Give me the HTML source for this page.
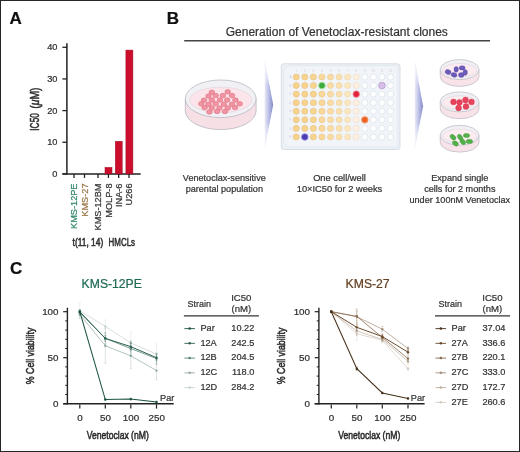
<!DOCTYPE html>
<html><head><meta charset="utf-8"><style>
html,body{margin:0;padding:0;background:#fff;}
body{width:520px;height:452px;overflow:hidden;}
svg{display:block;font-family:"Liberation Sans", sans-serif;will-change:transform;}
</style></head><body>
<svg width="520" height="452" viewBox="0 0 520 452">
<rect width="520" height="452" fill="#fff"/>
<rect x="0.5" y="0.5" width="519" height="451" fill="none" stroke="#262626" stroke-width="1"/>
<text transform="translate(9.60,24.00)" font-size="17" fill="#111" text-anchor="start" font-weight="bold" stroke="#111" stroke-width="0.22">A</text>
<text transform="translate(166.80,24.30)" font-size="17" fill="#111" text-anchor="start" font-weight="bold" stroke="#111" stroke-width="0.22">B</text>
<text transform="translate(9.90,273.80)" font-size="17" fill="#111" text-anchor="start" font-weight="bold" stroke="#111" stroke-width="0.22">C</text>
<line x1="66.90" y1="43.20" x2="66.90" y2="174.60" stroke="#222" stroke-width="1.5"/>
<line x1="62.40" y1="173.90" x2="140.70" y2="173.90" stroke="#222" stroke-width="1.5"/>
<line x1="62.40" y1="173.90" x2="66.90" y2="173.90" stroke="#222" stroke-width="1.3"/>
<text transform="translate(57.40,176.90)" font-size="9.2" fill="#2e2e2e" text-anchor="end" font-weight="normal" stroke="#2e2e2e" stroke-width="0.22">0</text>
<line x1="62.40" y1="142.25" x2="66.90" y2="142.25" stroke="#222" stroke-width="1.3"/>
<text transform="translate(57.40,145.25)" font-size="9.2" fill="#2e2e2e" text-anchor="end" font-weight="normal" stroke="#2e2e2e" stroke-width="0.22">10</text>
<line x1="62.40" y1="110.60" x2="66.90" y2="110.60" stroke="#222" stroke-width="1.3"/>
<text transform="translate(57.40,113.60)" font-size="9.2" fill="#2e2e2e" text-anchor="end" font-weight="normal" stroke="#2e2e2e" stroke-width="0.22">20</text>
<line x1="62.40" y1="78.95" x2="66.90" y2="78.95" stroke="#222" stroke-width="1.3"/>
<text transform="translate(57.40,81.95)" font-size="9.2" fill="#2e2e2e" text-anchor="end" font-weight="normal" stroke="#2e2e2e" stroke-width="0.22">30</text>
<line x1="62.40" y1="47.30" x2="66.90" y2="47.30" stroke="#222" stroke-width="1.3"/>
<text transform="translate(57.40,50.30)" font-size="9.2" fill="#2e2e2e" text-anchor="end" font-weight="normal" stroke="#2e2e2e" stroke-width="0.22">40</text>
<line x1="74.00" y1="173.90" x2="74.00" y2="177.90" stroke="#222" stroke-width="1.3"/>
<line x1="84.50" y1="173.90" x2="84.50" y2="177.90" stroke="#222" stroke-width="1.3"/>
<line x1="98.00" y1="173.90" x2="98.00" y2="177.90" stroke="#222" stroke-width="1.3"/>
<line x1="108.40" y1="173.90" x2="108.40" y2="177.90" stroke="#222" stroke-width="1.3"/>
<line x1="118.70" y1="173.90" x2="118.70" y2="177.90" stroke="#222" stroke-width="1.3"/>
<line x1="129.00" y1="173.90" x2="129.00" y2="177.90" stroke="#222" stroke-width="1.3"/>
<rect x="105.0" y="167.4" width="7.00" height="6.50" fill="#cc0e2c" stroke="#a00a22" stroke-width="0.5"/>
<rect x="115.3" y="141.3" width="6.90" height="32.60" fill="#cc0e2c" stroke="#a00a22" stroke-width="0.5"/>
<rect x="125.9" y="50.1" width="7.00" height="123.80" fill="#cc0e2c" stroke="#a00a22" stroke-width="0.5"/>
<text transform="translate(77.30,183.50) rotate(-90)" font-size="9.2" fill="#2f8568" text-anchor="end" font-weight="normal" stroke="#2f8568" stroke-width="0.22">KMS-12PE</text>
<text transform="translate(87.80,183.50) rotate(-90)" font-size="9.2" fill="#9a7444" text-anchor="end" font-weight="normal" stroke="#9a7444" stroke-width="0.22">KMS-27</text>
<text transform="translate(101.30,183.50) rotate(-90)" font-size="9.2" fill="#333" text-anchor="end" font-weight="normal" stroke="#333" stroke-width="0.22">KMS-12BM</text>
<text transform="translate(111.70,183.50) rotate(-90)" font-size="9.2" fill="#333" text-anchor="end" font-weight="normal" stroke="#333" stroke-width="0.22">MOLP-8</text>
<text transform="translate(122.00,183.50) rotate(-90)" font-size="9.2" fill="#333" text-anchor="end" font-weight="normal" stroke="#333" stroke-width="0.22">INA-6</text>
<text transform="translate(132.30,183.50) rotate(-90)" font-size="9.2" fill="#333" text-anchor="end" font-weight="normal" stroke="#333" stroke-width="0.22">U266</text>
<text transform="translate(39.00,121.90) rotate(-90) scale(0.7,1)" font-size="12.0" fill="#2a2a2a" text-anchor="middle" font-weight="normal" stroke="#2a2a2a" stroke-width="0.5">IC50</text>
<text transform="translate(39.00,98.10) rotate(-90) scale(0.86,1)" font-size="12.0" fill="#2a2a2a" text-anchor="middle" font-weight="normal" stroke="#2a2a2a" stroke-width="0.5">(<tspan font-style="italic">μ</tspan>M)</text>
<text transform="translate(72.60,246.00) scale(0.73,1)" font-size="11.5" fill="#2a2a2a" text-anchor="start" font-weight="normal" stroke="#2a2a2a" stroke-width="0.55">t(11, 14)</text>
<text transform="translate(108.60,246.00) scale(0.69,1)" font-size="11.5" fill="#2a2a2a" text-anchor="start" font-weight="normal" stroke="#2a2a2a" stroke-width="0.5">HMCLs</text>
<text transform="translate(225.70,36.00)" font-size="12" fill="#333" text-anchor="start" font-weight="normal" stroke="#333" stroke-width="0.22">Generation of Venetoclax-resistant clones</text>
<line x1="184.20" y1="40.80" x2="490.00" y2="40.80" stroke="#444" stroke-width="1.4"/>
<defs><linearGradient id="chev" x1="0" y1="0" x2="1" y2="0"><stop offset="0" stop-color="#e8e9f6"/><stop offset="0.5" stop-color="#babde6"/><stop offset="1" stop-color="#8088cc"/></linearGradient><linearGradient id="chevv" x1="0" y1="0" x2="0" y2="1"><stop offset="0" stop-color="#fff" stop-opacity="0.9"/><stop offset="0.3" stop-color="#fff" stop-opacity="0"/><stop offset="0.7" stop-color="#fff" stop-opacity="0"/><stop offset="1" stop-color="#fff" stop-opacity="0.9"/></linearGradient><radialGradient id="gwell" cx="0.5" cy="0.5" r="0.5"><stop offset="0" stop-color="#5fd05a"/><stop offset="0.6" stop-color="#2f9c2f"/><stop offset="0.8" stop-color="#3aa83a"/><stop offset="1" stop-color="#b8e8b0"/></radialGradient></defs>
<polygon points="264.7,60.5 273.2,104.8 264.7,148.0" fill="url(#chev)"/>
<polygon points="264.2,60.0 273.7,104.8 264.2,148.5" fill="url(#chevv)"/>
<polygon points="414.9,61.6 423.1,106.3 414.9,148.0" fill="url(#chev)"/>
<polygon points="414.4,61.1 423.6,106.3 414.4,148.5" fill="url(#chevv)"/>
<path d="M185.30,98.80 L185.30,110.80 A35.40,18.80 0 0 0 256.10,110.80 L256.10,98.80 Z" fill="#f7dfe6" stroke="#b7b7c0" stroke-width="0.8"/>
<ellipse cx="220.70" cy="98.80" rx="35.40" ry="18.80" fill="#f1f1f5" stroke="#b7b7c0" stroke-width="0.8"/>
<ellipse cx="220.70" cy="99.93" rx="31.15" ry="12.78" fill="#fce5ea" stroke="#d9cfd6" stroke-width="0.5"/>
<ellipse cx="211.80" cy="92.30" rx="2.75" ry="2.25" fill="#f095a3" stroke="#e27485" stroke-width="0.7"/>
<ellipse cx="227.70" cy="91.80" rx="2.75" ry="2.25" fill="#f095a3" stroke="#e27485" stroke-width="0.7"/>
<ellipse cx="208.50" cy="96.10" rx="2.75" ry="2.25" fill="#f095a3" stroke="#e27485" stroke-width="0.7"/>
<ellipse cx="215.70" cy="95.60" rx="2.75" ry="2.25" fill="#f095a3" stroke="#e27485" stroke-width="0.7"/>
<ellipse cx="222.90" cy="95.60" rx="2.75" ry="2.25" fill="#f095a3" stroke="#e27485" stroke-width="0.7"/>
<ellipse cx="232.00" cy="95.60" rx="2.75" ry="2.25" fill="#f095a3" stroke="#e27485" stroke-width="0.7"/>
<ellipse cx="211.80" cy="100.00" rx="2.75" ry="2.25" fill="#f095a3" stroke="#e27485" stroke-width="0.7"/>
<ellipse cx="220.00" cy="100.00" rx="2.75" ry="2.25" fill="#f095a3" stroke="#e27485" stroke-width="0.7"/>
<ellipse cx="227.20" cy="100.00" rx="2.75" ry="2.25" fill="#f095a3" stroke="#e27485" stroke-width="0.7"/>
<ellipse cx="235.40" cy="100.00" rx="2.75" ry="2.25" fill="#f095a3" stroke="#e27485" stroke-width="0.7"/>
<ellipse cx="204.00" cy="100.20" rx="2.75" ry="2.25" fill="#f095a3" stroke="#e27485" stroke-width="0.7"/>
<ellipse cx="201.30" cy="103.80" rx="2.75" ry="2.25" fill="#f095a3" stroke="#e27485" stroke-width="0.7"/>
<ellipse cx="208.50" cy="104.30" rx="2.75" ry="2.25" fill="#f095a3" stroke="#e27485" stroke-width="0.7"/>
<ellipse cx="215.70" cy="103.80" rx="2.75" ry="2.25" fill="#f095a3" stroke="#e27485" stroke-width="0.7"/>
<ellipse cx="223.80" cy="104.30" rx="2.75" ry="2.25" fill="#f095a3" stroke="#e27485" stroke-width="0.7"/>
<ellipse cx="232.00" cy="104.30" rx="2.75" ry="2.25" fill="#f095a3" stroke="#e27485" stroke-width="0.7"/>
<ellipse cx="239.70" cy="103.80" rx="2.75" ry="2.25" fill="#f095a3" stroke="#e27485" stroke-width="0.7"/>
<ellipse cx="204.60" cy="107.60" rx="2.75" ry="2.25" fill="#f095a3" stroke="#e27485" stroke-width="0.7"/>
<ellipse cx="211.80" cy="108.10" rx="2.75" ry="2.25" fill="#f095a3" stroke="#e27485" stroke-width="0.7"/>
<ellipse cx="219.50" cy="108.10" rx="2.75" ry="2.25" fill="#f095a3" stroke="#e27485" stroke-width="0.7"/>
<ellipse cx="227.70" cy="108.10" rx="2.75" ry="2.25" fill="#f095a3" stroke="#e27485" stroke-width="0.7"/>
<ellipse cx="235.00" cy="107.60" rx="2.75" ry="2.25" fill="#f095a3" stroke="#e27485" stroke-width="0.7"/>
<ellipse cx="209.40" cy="112.00" rx="2.75" ry="2.25" fill="#f095a3" stroke="#e27485" stroke-width="0.7"/>
<ellipse cx="217.10" cy="111.50" rx="2.75" ry="2.25" fill="#f095a3" stroke="#e27485" stroke-width="0.7"/>
<ellipse cx="225.00" cy="111.50" rx="2.75" ry="2.25" fill="#f095a3" stroke="#e27485" stroke-width="0.7"/>
<rect x="281.3" y="63.8" width="118.7" height="85.7" rx="2.5" fill="#edf1f6" stroke="#d3dbe4" stroke-width="0.9"/>
<path d="M288.0,65.8 L397.8,65.8 L397.8,147.0 L288.0,147.0 L283.6,142.6 L283.6,70.2 Z" fill="#f1f5f9" stroke="#dfe5ec" stroke-width="0.7"/>
<text transform="translate(290.40,78.10)" font-size="3.0" fill="#cfc6dc" text-anchor="middle" font-weight="normal">A</text>
<circle cx="296.25" cy="77.00" r="3.05" fill="#f8d28c" stroke="#e6bf7c" stroke-width="0.6"/>
<circle cx="304.82" cy="77.00" r="3.05" fill="#f8d38e" stroke="#e6bf7c" stroke-width="0.6"/>
<circle cx="313.39" cy="77.00" r="3.05" fill="#f8d491" stroke="#e6c07e" stroke-width="0.6"/>
<circle cx="321.96" cy="77.00" r="3.05" fill="#f9d89a" stroke="#e8c686" stroke-width="0.6"/>
<circle cx="330.53" cy="77.00" r="3.05" fill="#f9dca4" stroke="#eacb92" stroke-width="0.6"/>
<circle cx="339.10" cy="77.00" r="3.05" fill="#fae0ae" stroke="#ecd09e" stroke-width="0.6"/>
<circle cx="347.67" cy="77.00" r="3.05" fill="#fbe6be" stroke="#eed6ae" stroke-width="0.6"/>
<circle cx="356.24" cy="77.00" r="3.05" fill="#fdf0e0" stroke="#ecd9c8" stroke-width="0.6"/>
<circle cx="364.81" cy="77.00" r="3.05" fill="#ffffff" stroke="#d4dbe4" stroke-width="0.6"/>
<circle cx="373.38" cy="77.00" r="3.05" fill="#ffffff" stroke="#d4dbe4" stroke-width="0.6"/>
<circle cx="381.95" cy="77.00" r="3.05" fill="#ffffff" stroke="#d4dbe4" stroke-width="0.6"/>
<circle cx="390.52" cy="77.00" r="3.05" fill="#ffffff" stroke="#d4dbe4" stroke-width="0.6"/>
<text transform="translate(290.40,86.67)" font-size="3.0" fill="#cfc6dc" text-anchor="middle" font-weight="normal">B</text>
<circle cx="296.25" cy="85.57" r="3.05" fill="#f8d28c" stroke="#e6bf7c" stroke-width="0.6"/>
<circle cx="304.82" cy="85.57" r="3.05" fill="#f8d38e" stroke="#e6bf7c" stroke-width="0.6"/>
<circle cx="313.39" cy="85.57" r="3.05" fill="#f8d491" stroke="#e6c07e" stroke-width="0.6"/>
<circle cx="321.96" cy="85.57" r="3.3" fill="#3cab3c" stroke="#9fdc98" stroke-width="0.9"/>
<circle cx="330.53" cy="85.57" r="3.05" fill="#f9dca4" stroke="#eacb92" stroke-width="0.6"/>
<circle cx="339.10" cy="85.57" r="3.05" fill="#fae0ae" stroke="#ecd09e" stroke-width="0.6"/>
<circle cx="347.67" cy="85.57" r="3.05" fill="#fbe6be" stroke="#eed6ae" stroke-width="0.6"/>
<circle cx="356.24" cy="85.57" r="3.05" fill="#fdf0e0" stroke="#ecd9c8" stroke-width="0.6"/>
<circle cx="364.81" cy="85.57" r="3.05" fill="#ffffff" stroke="#d4dbe4" stroke-width="0.6"/>
<circle cx="373.38" cy="85.57" r="3.05" fill="#ffffff" stroke="#d4dbe4" stroke-width="0.6"/>
<circle cx="381.95" cy="85.57" r="3.3" fill="#d6c0e8" stroke="#b99ed2" stroke-width="0.9"/>
<circle cx="390.52" cy="85.57" r="3.05" fill="#ffffff" stroke="#d4dbe4" stroke-width="0.6"/>
<text transform="translate(290.40,95.24)" font-size="3.0" fill="#cfc6dc" text-anchor="middle" font-weight="normal">C</text>
<circle cx="296.25" cy="94.14" r="3.05" fill="#f8d28c" stroke="#e6bf7c" stroke-width="0.6"/>
<circle cx="304.82" cy="94.14" r="3.05" fill="#f8d38e" stroke="#e6bf7c" stroke-width="0.6"/>
<circle cx="313.39" cy="94.14" r="3.05" fill="#f8d491" stroke="#e6c07e" stroke-width="0.6"/>
<circle cx="321.96" cy="94.14" r="3.05" fill="#f9d89a" stroke="#e8c686" stroke-width="0.6"/>
<circle cx="330.53" cy="94.14" r="3.05" fill="#f9dca4" stroke="#eacb92" stroke-width="0.6"/>
<circle cx="339.10" cy="94.14" r="3.05" fill="#fae0ae" stroke="#ecd09e" stroke-width="0.6"/>
<circle cx="347.67" cy="94.14" r="3.05" fill="#fbe6be" stroke="#eed6ae" stroke-width="0.6"/>
<circle cx="356.24" cy="94.14" r="3.3" fill="#e0223b" stroke="#f09aa4" stroke-width="0.9"/>
<circle cx="364.81" cy="94.14" r="3.05" fill="#ffffff" stroke="#d4dbe4" stroke-width="0.6"/>
<circle cx="373.38" cy="94.14" r="3.05" fill="#ffffff" stroke="#d4dbe4" stroke-width="0.6"/>
<circle cx="381.95" cy="94.14" r="3.05" fill="#ffffff" stroke="#d4dbe4" stroke-width="0.6"/>
<circle cx="390.52" cy="94.14" r="3.05" fill="#ffffff" stroke="#d4dbe4" stroke-width="0.6"/>
<text transform="translate(290.40,103.81)" font-size="3.0" fill="#cfc6dc" text-anchor="middle" font-weight="normal">D</text>
<circle cx="296.25" cy="102.71" r="3.05" fill="#f8d28c" stroke="#e6bf7c" stroke-width="0.6"/>
<circle cx="304.82" cy="102.71" r="3.05" fill="#f8d38e" stroke="#e6bf7c" stroke-width="0.6"/>
<circle cx="313.39" cy="102.71" r="3.05" fill="#f8d491" stroke="#e6c07e" stroke-width="0.6"/>
<circle cx="321.96" cy="102.71" r="3.05" fill="#f9d89a" stroke="#e8c686" stroke-width="0.6"/>
<circle cx="330.53" cy="102.71" r="3.05" fill="#f9dca4" stroke="#eacb92" stroke-width="0.6"/>
<circle cx="339.10" cy="102.71" r="3.05" fill="#fae0ae" stroke="#ecd09e" stroke-width="0.6"/>
<circle cx="347.67" cy="102.71" r="3.05" fill="#fbe6be" stroke="#eed6ae" stroke-width="0.6"/>
<circle cx="356.24" cy="102.71" r="3.05" fill="#fdf0e0" stroke="#ecd9c8" stroke-width="0.6"/>
<circle cx="364.81" cy="102.71" r="3.05" fill="#ffffff" stroke="#d4dbe4" stroke-width="0.6"/>
<circle cx="373.38" cy="102.71" r="3.05" fill="#ffffff" stroke="#d4dbe4" stroke-width="0.6"/>
<circle cx="381.95" cy="102.71" r="3.05" fill="#ffffff" stroke="#d4dbe4" stroke-width="0.6"/>
<circle cx="390.52" cy="102.71" r="3.05" fill="#ffffff" stroke="#d4dbe4" stroke-width="0.6"/>
<text transform="translate(290.40,112.38)" font-size="3.0" fill="#cfc6dc" text-anchor="middle" font-weight="normal">E</text>
<circle cx="296.25" cy="111.28" r="3.05" fill="#f8d28c" stroke="#e6bf7c" stroke-width="0.6"/>
<circle cx="304.82" cy="111.28" r="3.05" fill="#f8d38e" stroke="#e6bf7c" stroke-width="0.6"/>
<circle cx="313.39" cy="111.28" r="3.05" fill="#f8d491" stroke="#e6c07e" stroke-width="0.6"/>
<circle cx="321.96" cy="111.28" r="3.05" fill="#f9d89a" stroke="#e8c686" stroke-width="0.6"/>
<circle cx="330.53" cy="111.28" r="3.05" fill="#f9dca4" stroke="#eacb92" stroke-width="0.6"/>
<circle cx="339.10" cy="111.28" r="3.05" fill="#fae0ae" stroke="#ecd09e" stroke-width="0.6"/>
<circle cx="347.67" cy="111.28" r="3.05" fill="#fbe6be" stroke="#eed6ae" stroke-width="0.6"/>
<circle cx="356.24" cy="111.28" r="3.05" fill="#fdf0e0" stroke="#ecd9c8" stroke-width="0.6"/>
<circle cx="364.81" cy="111.28" r="3.05" fill="#ffffff" stroke="#d4dbe4" stroke-width="0.6"/>
<circle cx="373.38" cy="111.28" r="3.05" fill="#ffffff" stroke="#d4dbe4" stroke-width="0.6"/>
<circle cx="381.95" cy="111.28" r="3.05" fill="#ffffff" stroke="#d4dbe4" stroke-width="0.6"/>
<circle cx="390.52" cy="111.28" r="3.05" fill="#ffffff" stroke="#d4dbe4" stroke-width="0.6"/>
<text transform="translate(290.40,120.95)" font-size="3.0" fill="#cfc6dc" text-anchor="middle" font-weight="normal">F</text>
<circle cx="296.25" cy="119.85" r="3.05" fill="#f8d28c" stroke="#e6bf7c" stroke-width="0.6"/>
<circle cx="304.82" cy="119.85" r="3.05" fill="#f8d38e" stroke="#e6bf7c" stroke-width="0.6"/>
<circle cx="313.39" cy="119.85" r="3.05" fill="#f8d491" stroke="#e6c07e" stroke-width="0.6"/>
<circle cx="321.96" cy="119.85" r="3.05" fill="#f9d89a" stroke="#e8c686" stroke-width="0.6"/>
<circle cx="330.53" cy="119.85" r="3.05" fill="#f9dca4" stroke="#eacb92" stroke-width="0.6"/>
<circle cx="339.10" cy="119.85" r="3.05" fill="#fae0ae" stroke="#ecd09e" stroke-width="0.6"/>
<circle cx="347.67" cy="119.85" r="3.05" fill="#fbe6be" stroke="#eed6ae" stroke-width="0.6"/>
<circle cx="356.24" cy="119.85" r="3.05" fill="#fdf0e0" stroke="#ecd9c8" stroke-width="0.6"/>
<circle cx="364.81" cy="119.85" r="3.3" fill="#ee6228" stroke="#f6a878" stroke-width="0.9"/>
<circle cx="373.38" cy="119.85" r="3.05" fill="#ffffff" stroke="#d4dbe4" stroke-width="0.6"/>
<circle cx="381.95" cy="119.85" r="3.05" fill="#ffffff" stroke="#d4dbe4" stroke-width="0.6"/>
<circle cx="390.52" cy="119.85" r="3.05" fill="#ffffff" stroke="#d4dbe4" stroke-width="0.6"/>
<text transform="translate(290.40,129.52)" font-size="3.0" fill="#cfc6dc" text-anchor="middle" font-weight="normal">G</text>
<circle cx="296.25" cy="128.42" r="3.05" fill="#f8d28c" stroke="#e6bf7c" stroke-width="0.6"/>
<circle cx="304.82" cy="128.42" r="3.05" fill="#f8d38e" stroke="#e6bf7c" stroke-width="0.6"/>
<circle cx="313.39" cy="128.42" r="3.05" fill="#f8d491" stroke="#e6c07e" stroke-width="0.6"/>
<circle cx="321.96" cy="128.42" r="3.05" fill="#f9d89a" stroke="#e8c686" stroke-width="0.6"/>
<circle cx="330.53" cy="128.42" r="3.05" fill="#f9dca4" stroke="#eacb92" stroke-width="0.6"/>
<circle cx="339.10" cy="128.42" r="3.05" fill="#fae0ae" stroke="#ecd09e" stroke-width="0.6"/>
<circle cx="347.67" cy="128.42" r="3.05" fill="#fbe6be" stroke="#eed6ae" stroke-width="0.6"/>
<circle cx="356.24" cy="128.42" r="3.05" fill="#fdf0e0" stroke="#ecd9c8" stroke-width="0.6"/>
<circle cx="364.81" cy="128.42" r="3.05" fill="#ffffff" stroke="#d4dbe4" stroke-width="0.6"/>
<circle cx="373.38" cy="128.42" r="3.05" fill="#ffffff" stroke="#d4dbe4" stroke-width="0.6"/>
<circle cx="381.95" cy="128.42" r="3.05" fill="#ffffff" stroke="#d4dbe4" stroke-width="0.6"/>
<circle cx="390.52" cy="128.42" r="3.05" fill="#ffffff" stroke="#d4dbe4" stroke-width="0.6"/>
<text transform="translate(290.40,138.09)" font-size="3.0" fill="#cfc6dc" text-anchor="middle" font-weight="normal">H</text>
<circle cx="296.25" cy="136.99" r="3.05" fill="#f8d28c" stroke="#e6bf7c" stroke-width="0.6"/>
<circle cx="304.82" cy="136.99" r="3.3" fill="#4a3cb2" stroke="#9890d8" stroke-width="0.9"/>
<circle cx="313.39" cy="136.99" r="3.05" fill="#f8d491" stroke="#e6c07e" stroke-width="0.6"/>
<circle cx="321.96" cy="136.99" r="3.05" fill="#f9d89a" stroke="#e8c686" stroke-width="0.6"/>
<circle cx="330.53" cy="136.99" r="3.05" fill="#f9dca4" stroke="#eacb92" stroke-width="0.6"/>
<circle cx="339.10" cy="136.99" r="3.05" fill="#fae0ae" stroke="#ecd09e" stroke-width="0.6"/>
<circle cx="347.67" cy="136.99" r="3.05" fill="#fbe6be" stroke="#eed6ae" stroke-width="0.6"/>
<circle cx="356.24" cy="136.99" r="3.05" fill="#fdf0e0" stroke="#ecd9c8" stroke-width="0.6"/>
<circle cx="364.81" cy="136.99" r="3.05" fill="#ffffff" stroke="#d4dbe4" stroke-width="0.6"/>
<circle cx="373.38" cy="136.99" r="3.05" fill="#ffffff" stroke="#d4dbe4" stroke-width="0.6"/>
<circle cx="381.95" cy="136.99" r="3.05" fill="#ffffff" stroke="#d4dbe4" stroke-width="0.6"/>
<circle cx="390.52" cy="136.99" r="3.05" fill="#ffffff" stroke="#d4dbe4" stroke-width="0.6"/>
<text transform="translate(296.25,71.80)" font-size="2.8" fill="#d2cad8" text-anchor="middle" font-weight="normal">1</text>
<text transform="translate(304.82,71.80)" font-size="2.8" fill="#d2cad8" text-anchor="middle" font-weight="normal">2</text>
<text transform="translate(313.39,71.80)" font-size="2.8" fill="#d2cad8" text-anchor="middle" font-weight="normal">3</text>
<text transform="translate(321.96,71.80)" font-size="2.8" fill="#d2cad8" text-anchor="middle" font-weight="normal">4</text>
<text transform="translate(330.53,71.80)" font-size="2.8" fill="#d2cad8" text-anchor="middle" font-weight="normal">5</text>
<text transform="translate(339.10,71.80)" font-size="2.8" fill="#d2cad8" text-anchor="middle" font-weight="normal">6</text>
<text transform="translate(347.67,71.80)" font-size="2.8" fill="#d2cad8" text-anchor="middle" font-weight="normal">7</text>
<text transform="translate(356.24,71.80)" font-size="2.8" fill="#d2cad8" text-anchor="middle" font-weight="normal">8</text>
<text transform="translate(364.81,71.80)" font-size="2.8" fill="#d2cad8" text-anchor="middle" font-weight="normal">9</text>
<text transform="translate(373.38,71.80)" font-size="2.8" fill="#d2cad8" text-anchor="middle" font-weight="normal">10</text>
<text transform="translate(381.95,71.80)" font-size="2.8" fill="#d2cad8" text-anchor="middle" font-weight="normal">11</text>
<text transform="translate(390.52,71.80)" font-size="2.8" fill="#d2cad8" text-anchor="middle" font-weight="normal">12</text>
<path d="M440.20,69.60 L440.20,76.40 A19.40,10.00 0 0 0 479.00,76.40 L479.00,69.60 Z" fill="#f8e3e9" stroke="#b7b7c0" stroke-width="0.7"/>
<ellipse cx="459.60" cy="69.60" rx="19.40" ry="10.00" fill="#f1f1f5" stroke="#b7b7c0" stroke-width="0.7"/>
<ellipse cx="459.60" cy="70.20" rx="17.07" ry="6.80" fill="#fcecf0" stroke="#d9cfd6" stroke-width="0.5"/>
<path d="M440.20,101.90 L440.20,108.70 A19.40,10.00 0 0 0 479.00,108.70 L479.00,101.90 Z" fill="#f8e3e9" stroke="#b7b7c0" stroke-width="0.7"/>
<ellipse cx="459.60" cy="101.90" rx="19.40" ry="10.00" fill="#f1f1f5" stroke="#b7b7c0" stroke-width="0.7"/>
<ellipse cx="459.60" cy="102.50" rx="17.07" ry="6.80" fill="#fcecf0" stroke="#d9cfd6" stroke-width="0.5"/>
<path d="M440.20,135.30 L440.20,142.10 A19.40,10.00 0 0 0 479.00,142.10 L479.00,135.30 Z" fill="#f8e3e9" stroke="#b7b7c0" stroke-width="0.7"/>
<ellipse cx="459.60" cy="135.30" rx="19.40" ry="10.00" fill="#f1f1f5" stroke="#b7b7c0" stroke-width="0.7"/>
<ellipse cx="459.60" cy="135.90" rx="17.07" ry="6.80" fill="#fcecf0" stroke="#d9cfd6" stroke-width="0.5"/>
<ellipse cx="448.10" cy="72.00" rx="3.0" ry="2.3" transform="rotate(20 448.10 72.00)" fill="#6c5cba" stroke="#5a4aa6" stroke-width="0.4"/>
<ellipse cx="454.00" cy="74.90" rx="3.0" ry="2.2" transform="rotate(15 454.00 74.90)" fill="#6c5cba" stroke="#5a4aa6" stroke-width="0.4"/>
<ellipse cx="456.20" cy="69.40" rx="2.2" ry="2.8" transform="rotate(0 456.20 69.40)" fill="#6c5cba" stroke="#5a4aa6" stroke-width="0.4"/>
<ellipse cx="462.10" cy="67.90" rx="3.0" ry="2.2" transform="rotate(0 462.10 67.90)" fill="#6c5cba" stroke="#5a4aa6" stroke-width="0.4"/>
<ellipse cx="461.30" cy="75.00" rx="2.8" ry="2.4" transform="rotate(0 461.30 75.00)" fill="#6c5cba" stroke="#5a4aa6" stroke-width="0.4"/>
<ellipse cx="465.20" cy="72.40" rx="2.2" ry="2.8" transform="rotate(0 465.20 72.40)" fill="#6c5cba" stroke="#5a4aa6" stroke-width="0.4"/>
<circle cx="453.50" cy="101.90" r="2.9" fill="#e6445a" stroke="#d03048" stroke-width="0.4"/>
<circle cx="459.50" cy="102.30" r="2.9" fill="#e6445a" stroke="#d03048" stroke-width="0.4"/>
<circle cx="465.50" cy="100.00" r="2.9" fill="#e6445a" stroke="#d03048" stroke-width="0.4"/>
<circle cx="471.50" cy="101.90" r="2.9" fill="#e6445a" stroke="#d03048" stroke-width="0.4"/>
<circle cx="458.60" cy="108.00" r="2.9" fill="#e6445a" stroke="#d03048" stroke-width="0.4"/>
<circle cx="466.00" cy="106.50" r="2.9" fill="#e6445a" stroke="#d03048" stroke-width="0.4"/>
<ellipse cx="453.00" cy="137.20" rx="3.3" ry="2.2" transform="rotate(40 453.00 137.20)" fill="#52b04a" stroke="#409a38" stroke-width="0.4"/>
<ellipse cx="455.40" cy="143.40" rx="3.2" ry="2.2" transform="rotate(35 455.40 143.40)" fill="#52b04a" stroke="#409a38" stroke-width="0.4"/>
<ellipse cx="460.20" cy="137.40" rx="3.4" ry="2.2" transform="rotate(55 460.20 137.40)" fill="#52b04a" stroke="#409a38" stroke-width="0.4"/>
<ellipse cx="462.80" cy="141.80" rx="3.2" ry="2.3" transform="rotate(50 462.80 141.80)" fill="#52b04a" stroke="#409a38" stroke-width="0.4"/>
<ellipse cx="466.50" cy="135.50" rx="3.2" ry="2.1" transform="rotate(5 466.50 135.50)" fill="#52b04a" stroke="#409a38" stroke-width="0.4"/>
<ellipse cx="469.40" cy="141.40" rx="3.3" ry="2.2" transform="rotate(0 469.40 141.40)" fill="#52b04a" stroke="#409a38" stroke-width="0.4"/>
<text transform="translate(224.30,181.10)" font-size="9.1" fill="#333" text-anchor="middle" font-weight="normal" stroke="#333" stroke-width="0.22">Venetoclax-sensitive</text>
<text transform="translate(224.30,191.70)" font-size="9.1" fill="#333" text-anchor="middle" font-weight="normal" stroke="#333" stroke-width="0.22">parental population</text>
<text transform="translate(339.50,180.80)" font-size="9.3" fill="#333" text-anchor="middle" font-weight="normal" stroke="#333" stroke-width="0.22">One cell/well</text>
<text transform="translate(339.50,191.60)" font-size="9.3" fill="#333" text-anchor="middle" font-weight="normal" stroke="#333" stroke-width="0.22">10×IC50 for 2 weeks</text>
<text transform="translate(459.80,181.20)" font-size="9.1" fill="#333" text-anchor="middle" font-weight="normal" stroke="#333" stroke-width="0.22">Expand single</text>
<text transform="translate(459.80,191.90)" font-size="9.1" fill="#333" text-anchor="middle" font-weight="normal" stroke="#333" stroke-width="0.22">cells for 2 months</text>
<text transform="translate(459.80,202.60)" font-size="9.1" fill="#333" text-anchor="middle" font-weight="normal" stroke="#333" stroke-width="0.22">under 100nM Venetoclax</text>
<text transform="translate(81.60,288.40)" font-size="12.2" fill="#1f6b55" text-anchor="start" font-weight="normal" stroke="#1f6b55" stroke-width="0.22">KMS-12PE</text>
<line x1="67.40" y1="307.70" x2="67.40" y2="404.40" stroke="#222" stroke-width="1.4"/>
<line x1="63.20" y1="403.70" x2="173.70" y2="403.70" stroke="#222" stroke-width="1.4"/>
<line x1="63.20" y1="403.70" x2="67.40" y2="403.70" stroke="#222" stroke-width="1.2"/>
<line x1="65.20" y1="394.50" x2="67.40" y2="394.50" stroke="#222" stroke-width="1.0"/>
<line x1="65.20" y1="385.30" x2="67.40" y2="385.30" stroke="#222" stroke-width="1.0"/>
<line x1="65.20" y1="376.10" x2="67.40" y2="376.10" stroke="#222" stroke-width="1.0"/>
<line x1="65.20" y1="366.90" x2="67.40" y2="366.90" stroke="#222" stroke-width="1.0"/>
<line x1="63.20" y1="357.70" x2="67.40" y2="357.70" stroke="#222" stroke-width="1.2"/>
<line x1="65.20" y1="348.50" x2="67.40" y2="348.50" stroke="#222" stroke-width="1.0"/>
<line x1="65.20" y1="339.30" x2="67.40" y2="339.30" stroke="#222" stroke-width="1.0"/>
<line x1="65.20" y1="330.10" x2="67.40" y2="330.10" stroke="#222" stroke-width="1.0"/>
<line x1="65.20" y1="320.90" x2="67.40" y2="320.90" stroke="#222" stroke-width="1.0"/>
<line x1="63.20" y1="311.70" x2="67.40" y2="311.70" stroke="#222" stroke-width="1.2"/>
<text transform="translate(58.50,407.10)" font-size="9.8" fill="#2e2e2e" text-anchor="end" font-weight="normal" stroke="#2e2e2e" stroke-width="0.22">0</text>
<text transform="translate(58.50,361.10)" font-size="9.8" fill="#2e2e2e" text-anchor="end" font-weight="normal" stroke="#2e2e2e" stroke-width="0.22">50</text>
<text transform="translate(58.50,315.10)" font-size="9.8" fill="#2e2e2e" text-anchor="end" font-weight="normal" stroke="#2e2e2e" stroke-width="0.22">100</text>
<line x1="79.80" y1="404.40" x2="79.80" y2="408.60" stroke="#222" stroke-width="1.2"/>
<text transform="translate(80.00,421.10)" font-size="9.8" fill="#2e2e2e" text-anchor="middle" font-weight="normal" stroke="#2e2e2e" stroke-width="0.22">0</text>
<line x1="105.30" y1="404.40" x2="105.30" y2="408.60" stroke="#222" stroke-width="1.2"/>
<text transform="translate(105.50,421.10)" font-size="9.8" fill="#2e2e2e" text-anchor="middle" font-weight="normal" stroke="#2e2e2e" stroke-width="0.22">50</text>
<line x1="130.80" y1="404.40" x2="130.80" y2="408.60" stroke="#222" stroke-width="1.2"/>
<text transform="translate(131.00,421.10)" font-size="9.8" fill="#2e2e2e" text-anchor="middle" font-weight="normal" stroke="#2e2e2e" stroke-width="0.22">100</text>
<line x1="156.50" y1="404.40" x2="156.50" y2="408.60" stroke="#222" stroke-width="1.2"/>
<text transform="translate(156.70,421.10)" font-size="9.8" fill="#2e2e2e" text-anchor="middle" font-weight="normal" stroke="#2e2e2e" stroke-width="0.22">250</text>
<text transform="translate(117.75,438.50) scale(0.735,1)" font-size="11.7" fill="#2a2a2a" text-anchor="middle" font-weight="normal" stroke="#2a2a2a" stroke-width="0.55">Venetoclax (nM)</text>
<text transform="translate(33.50,355.90) rotate(-90) scale(0.765,1)" font-size="11.5" fill="#2a2a2a" text-anchor="middle" font-weight="normal" stroke="#2a2a2a" stroke-width="0.55">% Cell viability</text>
<line x1="79.80" y1="302.96" x2="79.80" y2="318.60" stroke="#c6d2cd" stroke-width="0.6" stroke-opacity="0.55"/>
<line x1="78.80" y1="302.96" x2="80.80" y2="302.96" stroke="#c6d2cd" stroke-width="0.6" stroke-opacity="0.55"/>
<line x1="78.80" y1="318.60" x2="80.80" y2="318.60" stroke="#c6d2cd" stroke-width="0.6" stroke-opacity="0.55"/>
<line x1="105.30" y1="319.98" x2="105.30" y2="332.86" stroke="#c6d2cd" stroke-width="0.6" stroke-opacity="0.55"/>
<line x1="104.30" y1="319.98" x2="106.30" y2="319.98" stroke="#c6d2cd" stroke-width="0.6" stroke-opacity="0.55"/>
<line x1="104.30" y1="332.86" x2="106.30" y2="332.86" stroke="#c6d2cd" stroke-width="0.6" stroke-opacity="0.55"/>
<line x1="130.80" y1="331.94" x2="130.80" y2="354.02" stroke="#c6d2cd" stroke-width="0.6" stroke-opacity="0.55"/>
<line x1="129.80" y1="331.94" x2="131.80" y2="331.94" stroke="#c6d2cd" stroke-width="0.6" stroke-opacity="0.55"/>
<line x1="129.80" y1="354.02" x2="131.80" y2="354.02" stroke="#c6d2cd" stroke-width="0.6" stroke-opacity="0.55"/>
<line x1="156.50" y1="343.90" x2="156.50" y2="364.14" stroke="#c6d2cd" stroke-width="0.6" stroke-opacity="0.55"/>
<line x1="155.50" y1="343.90" x2="157.50" y2="343.90" stroke="#c6d2cd" stroke-width="0.6" stroke-opacity="0.55"/>
<line x1="155.50" y1="364.14" x2="157.50" y2="364.14" stroke="#c6d2cd" stroke-width="0.6" stroke-opacity="0.55"/>
<polyline points="79.80,310.78 105.30,326.42 130.80,342.98 156.50,354.02" fill="none" stroke="#c6d2cd" stroke-width="0.7"/>
<circle cx="79.80" cy="310.78" r="1.2" fill="#c6d2cd"/>
<circle cx="105.30" cy="326.42" r="1.2" fill="#c6d2cd"/>
<circle cx="130.80" cy="342.98" r="1.2" fill="#c6d2cd"/>
<circle cx="156.50" cy="354.02" r="1.2" fill="#c6d2cd"/>
<line x1="79.80" y1="310.78" x2="79.80" y2="318.14" stroke="#94aba2" stroke-width="0.6" stroke-opacity="0.55"/>
<line x1="78.80" y1="310.78" x2="80.80" y2="310.78" stroke="#94aba2" stroke-width="0.6" stroke-opacity="0.55"/>
<line x1="78.80" y1="318.14" x2="80.80" y2="318.14" stroke="#94aba2" stroke-width="0.6" stroke-opacity="0.55"/>
<line x1="105.30" y1="328.26" x2="105.30" y2="363.22" stroke="#94aba2" stroke-width="0.6" stroke-opacity="0.55"/>
<line x1="104.30" y1="328.26" x2="106.30" y2="328.26" stroke="#94aba2" stroke-width="0.6" stroke-opacity="0.55"/>
<line x1="104.30" y1="363.22" x2="106.30" y2="363.22" stroke="#94aba2" stroke-width="0.6" stroke-opacity="0.55"/>
<line x1="130.80" y1="342.98" x2="130.80" y2="368.74" stroke="#94aba2" stroke-width="0.6" stroke-opacity="0.55"/>
<line x1="129.80" y1="342.98" x2="131.80" y2="342.98" stroke="#94aba2" stroke-width="0.6" stroke-opacity="0.55"/>
<line x1="129.80" y1="368.74" x2="131.80" y2="368.74" stroke="#94aba2" stroke-width="0.6" stroke-opacity="0.55"/>
<line x1="156.50" y1="361.38" x2="156.50" y2="379.78" stroke="#94aba2" stroke-width="0.6" stroke-opacity="0.55"/>
<line x1="155.50" y1="361.38" x2="157.50" y2="361.38" stroke="#94aba2" stroke-width="0.6" stroke-opacity="0.55"/>
<line x1="155.50" y1="379.78" x2="157.50" y2="379.78" stroke="#94aba2" stroke-width="0.6" stroke-opacity="0.55"/>
<polyline points="79.80,314.46 105.30,345.74 130.80,355.86 156.50,370.58" fill="none" stroke="#94aba2" stroke-width="0.7"/>
<circle cx="79.80" cy="314.46" r="1.2" fill="#94aba2"/>
<circle cx="105.30" cy="345.74" r="1.2" fill="#94aba2"/>
<circle cx="130.80" cy="355.86" r="1.2" fill="#94aba2"/>
<circle cx="156.50" cy="370.58" r="1.2" fill="#94aba2"/>
<line x1="79.80" y1="309.86" x2="79.80" y2="315.38" stroke="#58857a" stroke-width="0.6" stroke-opacity="0.55"/>
<line x1="78.80" y1="309.86" x2="80.80" y2="309.86" stroke="#58857a" stroke-width="0.6" stroke-opacity="0.55"/>
<line x1="78.80" y1="315.38" x2="80.80" y2="315.38" stroke="#58857a" stroke-width="0.6" stroke-opacity="0.55"/>
<line x1="105.30" y1="332.86" x2="105.30" y2="343.90" stroke="#58857a" stroke-width="0.6" stroke-opacity="0.55"/>
<line x1="104.30" y1="332.86" x2="106.30" y2="332.86" stroke="#58857a" stroke-width="0.6" stroke-opacity="0.55"/>
<line x1="104.30" y1="343.90" x2="106.30" y2="343.90" stroke="#58857a" stroke-width="0.6" stroke-opacity="0.55"/>
<line x1="130.80" y1="341.14" x2="130.80" y2="355.86" stroke="#58857a" stroke-width="0.6" stroke-opacity="0.55"/>
<line x1="129.80" y1="341.14" x2="131.80" y2="341.14" stroke="#58857a" stroke-width="0.6" stroke-opacity="0.55"/>
<line x1="129.80" y1="355.86" x2="131.80" y2="355.86" stroke="#58857a" stroke-width="0.6" stroke-opacity="0.55"/>
<line x1="156.50" y1="353.10" x2="156.50" y2="364.14" stroke="#58857a" stroke-width="0.6" stroke-opacity="0.55"/>
<line x1="155.50" y1="353.10" x2="157.50" y2="353.10" stroke="#58857a" stroke-width="0.6" stroke-opacity="0.55"/>
<line x1="155.50" y1="364.14" x2="157.50" y2="364.14" stroke="#58857a" stroke-width="0.6" stroke-opacity="0.55"/>
<polyline points="79.80,312.62 105.30,338.38 130.80,348.50 156.50,358.62" fill="none" stroke="#58857a" stroke-width="0.8"/>
<circle cx="79.80" cy="312.62" r="1.2" fill="#58857a"/>
<circle cx="105.30" cy="338.38" r="1.2" fill="#58857a"/>
<circle cx="130.80" cy="348.50" r="1.2" fill="#58857a"/>
<circle cx="156.50" cy="358.62" r="1.2" fill="#58857a"/>
<line x1="79.80" y1="309.86" x2="79.80" y2="313.54" stroke="#2c5f51" stroke-width="0.6" stroke-opacity="0.55"/>
<line x1="78.80" y1="309.86" x2="80.80" y2="309.86" stroke="#2c5f51" stroke-width="0.6" stroke-opacity="0.55"/>
<line x1="78.80" y1="313.54" x2="80.80" y2="313.54" stroke="#2c5f51" stroke-width="0.6" stroke-opacity="0.55"/>
<line x1="105.30" y1="335.62" x2="105.30" y2="341.14" stroke="#2c5f51" stroke-width="0.6" stroke-opacity="0.55"/>
<line x1="104.30" y1="335.62" x2="106.30" y2="335.62" stroke="#2c5f51" stroke-width="0.6" stroke-opacity="0.55"/>
<line x1="104.30" y1="341.14" x2="106.30" y2="341.14" stroke="#2c5f51" stroke-width="0.6" stroke-opacity="0.55"/>
<line x1="130.80" y1="342.98" x2="130.80" y2="350.34" stroke="#2c5f51" stroke-width="0.6" stroke-opacity="0.55"/>
<line x1="129.80" y1="342.98" x2="131.80" y2="342.98" stroke="#2c5f51" stroke-width="0.6" stroke-opacity="0.55"/>
<line x1="129.80" y1="350.34" x2="131.80" y2="350.34" stroke="#2c5f51" stroke-width="0.6" stroke-opacity="0.55"/>
<line x1="156.50" y1="354.94" x2="156.50" y2="360.46" stroke="#2c5f51" stroke-width="0.6" stroke-opacity="0.55"/>
<line x1="155.50" y1="354.94" x2="157.50" y2="354.94" stroke="#2c5f51" stroke-width="0.6" stroke-opacity="0.55"/>
<line x1="155.50" y1="360.46" x2="157.50" y2="360.46" stroke="#2c5f51" stroke-width="0.6" stroke-opacity="0.55"/>
<polyline points="79.80,311.70 105.30,338.38 130.80,346.66 156.50,357.70" fill="none" stroke="#2c5f51" stroke-width="1.0"/>
<circle cx="79.80" cy="311.70" r="1.2" fill="#2c5f51"/>
<circle cx="105.30" cy="338.38" r="1.2" fill="#2c5f51"/>
<circle cx="130.80" cy="346.66" r="1.2" fill="#2c5f51"/>
<circle cx="156.50" cy="357.70" r="1.2" fill="#2c5f51"/>
<line x1="105.30" y1="399.01" x2="105.30" y2="400.11" stroke="#1a5242" stroke-width="0.6" stroke-opacity="0.55"/>
<line x1="104.30" y1="399.01" x2="106.30" y2="399.01" stroke="#1a5242" stroke-width="0.6" stroke-opacity="0.55"/>
<line x1="104.30" y1="400.11" x2="106.30" y2="400.11" stroke="#1a5242" stroke-width="0.6" stroke-opacity="0.55"/>
<line x1="130.80" y1="398.18" x2="130.80" y2="400.02" stroke="#1a5242" stroke-width="0.6" stroke-opacity="0.55"/>
<line x1="129.80" y1="398.18" x2="131.80" y2="398.18" stroke="#1a5242" stroke-width="0.6" stroke-opacity="0.55"/>
<line x1="129.80" y1="400.02" x2="131.80" y2="400.02" stroke="#1a5242" stroke-width="0.6" stroke-opacity="0.55"/>
<line x1="156.50" y1="401.58" x2="156.50" y2="402.32" stroke="#1a5242" stroke-width="0.6" stroke-opacity="0.55"/>
<line x1="155.50" y1="401.58" x2="157.50" y2="401.58" stroke="#1a5242" stroke-width="0.6" stroke-opacity="0.55"/>
<line x1="155.50" y1="402.32" x2="157.50" y2="402.32" stroke="#1a5242" stroke-width="0.6" stroke-opacity="0.55"/>
<polyline points="79.80,311.70 105.30,399.56 130.80,399.10 156.50,401.95" fill="none" stroke="#1a5242" stroke-width="1.05"/>
<circle cx="79.80" cy="311.70" r="1.2" fill="#1a5242"/>
<circle cx="105.30" cy="399.56" r="1.2" fill="#1a5242"/>
<circle cx="130.80" cy="399.10" r="1.2" fill="#1a5242"/>
<circle cx="156.50" cy="401.95" r="1.2" fill="#1a5242"/>
<text transform="translate(160.00,401.40)" font-size="9.2" fill="#333" text-anchor="start" font-weight="normal" stroke="#333" stroke-width="0.22">Par</text>
<text transform="translate(187.40,306.90)" font-size="9.0" fill="#333" text-anchor="start" font-weight="normal" stroke="#333" stroke-width="0.22">Strain</text>
<text transform="translate(241.30,301.30)" font-size="9.6" fill="#333" text-anchor="middle" font-weight="normal" stroke="#333" stroke-width="0.22">IC50</text>
<text transform="translate(241.30,312.40)" font-size="9.6" fill="#333" text-anchor="middle" font-weight="normal" stroke="#333" stroke-width="0.22">(nM)</text>
<line x1="183.90" y1="315.90" x2="258.90" y2="315.90" stroke="#333" stroke-width="1.2"/>
<line x1="184.40" y1="328.60" x2="194.90" y2="328.60" stroke="#1a5242" stroke-width="0.9"/>
<circle cx="189.70" cy="328.60" r="1.25" fill="#1a5242"/>
<text transform="translate(200.40,330.80)" font-size="9.2" fill="#333" text-anchor="start" font-weight="normal" stroke="#333" stroke-width="0.22">Par</text>
<text transform="translate(254.30,330.80)" font-size="9.2" fill="#333" text-anchor="end" font-weight="normal" stroke="#333" stroke-width="0.22">10.22</text>
<line x1="184.40" y1="343.35" x2="194.90" y2="343.35" stroke="#2c5f51" stroke-width="0.9"/>
<circle cx="189.70" cy="343.35" r="1.25" fill="#2c5f51"/>
<text transform="translate(200.40,345.55)" font-size="9.2" fill="#333" text-anchor="start" font-weight="normal" stroke="#333" stroke-width="0.22">12A</text>
<text transform="translate(254.30,345.55)" font-size="9.2" fill="#333" text-anchor="end" font-weight="normal" stroke="#333" stroke-width="0.22">242.5</text>
<line x1="184.40" y1="358.10" x2="194.90" y2="358.10" stroke="#58857a" stroke-width="0.9"/>
<circle cx="189.70" cy="358.10" r="1.25" fill="#58857a"/>
<text transform="translate(200.40,360.30)" font-size="9.2" fill="#333" text-anchor="start" font-weight="normal" stroke="#333" stroke-width="0.22">12B</text>
<text transform="translate(254.30,360.30)" font-size="9.2" fill="#333" text-anchor="end" font-weight="normal" stroke="#333" stroke-width="0.22">204.5</text>
<line x1="184.40" y1="372.85" x2="194.90" y2="372.85" stroke="#94aba2" stroke-width="0.9"/>
<circle cx="189.70" cy="372.85" r="1.25" fill="#94aba2"/>
<text transform="translate(200.40,375.05)" font-size="9.2" fill="#333" text-anchor="start" font-weight="normal" stroke="#333" stroke-width="0.22">12C</text>
<text transform="translate(254.30,375.05)" font-size="9.2" fill="#333" text-anchor="end" font-weight="normal" stroke="#333" stroke-width="0.22">118.0</text>
<line x1="184.40" y1="387.60" x2="194.90" y2="387.60" stroke="#c6d2cd" stroke-width="0.9"/>
<circle cx="189.70" cy="387.60" r="1.25" fill="#c6d2cd"/>
<text transform="translate(200.40,389.80)" font-size="9.2" fill="#333" text-anchor="start" font-weight="normal" stroke="#333" stroke-width="0.22">12D</text>
<text transform="translate(254.30,389.80)" font-size="9.2" fill="#333" text-anchor="end" font-weight="normal" stroke="#333" stroke-width="0.22">284.2</text>
<text transform="translate(345.60,288.40)" font-size="12.2" fill="#633f22" text-anchor="start" font-weight="normal" stroke="#633f22" stroke-width="0.22">KMS-27</text>
<line x1="318.90" y1="307.70" x2="318.90" y2="404.40" stroke="#222" stroke-width="1.4"/>
<line x1="314.70" y1="403.70" x2="424.60" y2="403.70" stroke="#222" stroke-width="1.4"/>
<line x1="314.70" y1="403.70" x2="318.90" y2="403.70" stroke="#222" stroke-width="1.2"/>
<line x1="316.70" y1="394.50" x2="318.90" y2="394.50" stroke="#222" stroke-width="1.0"/>
<line x1="316.70" y1="385.30" x2="318.90" y2="385.30" stroke="#222" stroke-width="1.0"/>
<line x1="316.70" y1="376.10" x2="318.90" y2="376.10" stroke="#222" stroke-width="1.0"/>
<line x1="316.70" y1="366.90" x2="318.90" y2="366.90" stroke="#222" stroke-width="1.0"/>
<line x1="314.70" y1="357.70" x2="318.90" y2="357.70" stroke="#222" stroke-width="1.2"/>
<line x1="316.70" y1="348.50" x2="318.90" y2="348.50" stroke="#222" stroke-width="1.0"/>
<line x1="316.70" y1="339.30" x2="318.90" y2="339.30" stroke="#222" stroke-width="1.0"/>
<line x1="316.70" y1="330.10" x2="318.90" y2="330.10" stroke="#222" stroke-width="1.0"/>
<line x1="316.70" y1="320.90" x2="318.90" y2="320.90" stroke="#222" stroke-width="1.0"/>
<line x1="314.70" y1="311.70" x2="318.90" y2="311.70" stroke="#222" stroke-width="1.2"/>
<text transform="translate(310.00,407.10)" font-size="9.8" fill="#2e2e2e" text-anchor="end" font-weight="normal" stroke="#2e2e2e" stroke-width="0.22">0</text>
<text transform="translate(310.00,361.10)" font-size="9.8" fill="#2e2e2e" text-anchor="end" font-weight="normal" stroke="#2e2e2e" stroke-width="0.22">50</text>
<text transform="translate(310.00,315.10)" font-size="9.8" fill="#2e2e2e" text-anchor="end" font-weight="normal" stroke="#2e2e2e" stroke-width="0.22">100</text>
<line x1="331.30" y1="404.40" x2="331.30" y2="408.60" stroke="#222" stroke-width="1.2"/>
<text transform="translate(331.50,421.10)" font-size="9.8" fill="#2e2e2e" text-anchor="middle" font-weight="normal" stroke="#2e2e2e" stroke-width="0.22">0</text>
<line x1="356.80" y1="404.40" x2="356.80" y2="408.60" stroke="#222" stroke-width="1.2"/>
<text transform="translate(357.00,421.10)" font-size="9.8" fill="#2e2e2e" text-anchor="middle" font-weight="normal" stroke="#2e2e2e" stroke-width="0.22">50</text>
<line x1="382.30" y1="404.40" x2="382.30" y2="408.60" stroke="#222" stroke-width="1.2"/>
<text transform="translate(382.50,421.10)" font-size="9.8" fill="#2e2e2e" text-anchor="middle" font-weight="normal" stroke="#2e2e2e" stroke-width="0.22">100</text>
<line x1="408.00" y1="404.40" x2="408.00" y2="408.60" stroke="#222" stroke-width="1.2"/>
<text transform="translate(408.20,421.10)" font-size="9.8" fill="#2e2e2e" text-anchor="middle" font-weight="normal" stroke="#2e2e2e" stroke-width="0.22">250</text>
<text transform="translate(369.25,438.50) scale(0.735,1)" font-size="11.7" fill="#2a2a2a" text-anchor="middle" font-weight="normal" stroke="#2a2a2a" stroke-width="0.55">Venetoclax (nM)</text>
<text transform="translate(285.00,355.90) rotate(-90) scale(0.765,1)" font-size="11.5" fill="#2a2a2a" text-anchor="middle" font-weight="normal" stroke="#2a2a2a" stroke-width="0.55">% Cell viability</text>
<line x1="331.30" y1="310.78" x2="331.30" y2="312.62" stroke="#d4cabe" stroke-width="0.6" stroke-opacity="0.55"/>
<line x1="330.30" y1="310.78" x2="332.30" y2="310.78" stroke="#d4cabe" stroke-width="0.6" stroke-opacity="0.55"/>
<line x1="330.30" y1="312.62" x2="332.30" y2="312.62" stroke="#d4cabe" stroke-width="0.6" stroke-opacity="0.55"/>
<line x1="356.80" y1="327.34" x2="356.80" y2="340.22" stroke="#d4cabe" stroke-width="0.6" stroke-opacity="0.55"/>
<line x1="355.80" y1="327.34" x2="357.80" y2="327.34" stroke="#d4cabe" stroke-width="0.6" stroke-opacity="0.55"/>
<line x1="355.80" y1="340.22" x2="357.80" y2="340.22" stroke="#d4cabe" stroke-width="0.6" stroke-opacity="0.55"/>
<line x1="382.30" y1="337.46" x2="382.30" y2="342.98" stroke="#d4cabe" stroke-width="0.6" stroke-opacity="0.55"/>
<line x1="381.30" y1="337.46" x2="383.30" y2="337.46" stroke="#d4cabe" stroke-width="0.6" stroke-opacity="0.55"/>
<line x1="381.30" y1="342.98" x2="383.30" y2="342.98" stroke="#d4cabe" stroke-width="0.6" stroke-opacity="0.55"/>
<line x1="408.00" y1="366.90" x2="408.00" y2="370.58" stroke="#d4cabe" stroke-width="0.6" stroke-opacity="0.55"/>
<line x1="407.00" y1="366.90" x2="409.00" y2="366.90" stroke="#d4cabe" stroke-width="0.6" stroke-opacity="0.55"/>
<line x1="407.00" y1="370.58" x2="409.00" y2="370.58" stroke="#d4cabe" stroke-width="0.6" stroke-opacity="0.55"/>
<polyline points="331.30,311.70 356.80,333.78 382.30,340.22 408.00,368.74" fill="none" stroke="#d4cabe" stroke-width="0.7"/>
<circle cx="331.30" cy="311.70" r="1.2" fill="#d4cabe"/>
<circle cx="356.80" cy="333.78" r="1.2" fill="#d4cabe"/>
<circle cx="382.30" cy="340.22" r="1.2" fill="#d4cabe"/>
<circle cx="408.00" cy="368.74" r="1.2" fill="#d4cabe"/>
<line x1="331.30" y1="310.78" x2="331.30" y2="312.62" stroke="#bcae9e" stroke-width="0.6" stroke-opacity="0.55"/>
<line x1="330.30" y1="310.78" x2="332.30" y2="310.78" stroke="#bcae9e" stroke-width="0.6" stroke-opacity="0.55"/>
<line x1="330.30" y1="312.62" x2="332.30" y2="312.62" stroke="#bcae9e" stroke-width="0.6" stroke-opacity="0.55"/>
<line x1="356.80" y1="326.42" x2="356.80" y2="335.62" stroke="#bcae9e" stroke-width="0.6" stroke-opacity="0.55"/>
<line x1="355.80" y1="326.42" x2="357.80" y2="326.42" stroke="#bcae9e" stroke-width="0.6" stroke-opacity="0.55"/>
<line x1="355.80" y1="335.62" x2="357.80" y2="335.62" stroke="#bcae9e" stroke-width="0.6" stroke-opacity="0.55"/>
<line x1="382.30" y1="336.54" x2="382.30" y2="342.06" stroke="#bcae9e" stroke-width="0.6" stroke-opacity="0.55"/>
<line x1="381.30" y1="336.54" x2="383.30" y2="336.54" stroke="#bcae9e" stroke-width="0.6" stroke-opacity="0.55"/>
<line x1="381.30" y1="342.06" x2="383.30" y2="342.06" stroke="#bcae9e" stroke-width="0.6" stroke-opacity="0.55"/>
<line x1="408.00" y1="358.62" x2="408.00" y2="364.14" stroke="#bcae9e" stroke-width="0.6" stroke-opacity="0.55"/>
<line x1="407.00" y1="358.62" x2="409.00" y2="358.62" stroke="#bcae9e" stroke-width="0.6" stroke-opacity="0.55"/>
<line x1="407.00" y1="364.14" x2="409.00" y2="364.14" stroke="#bcae9e" stroke-width="0.6" stroke-opacity="0.55"/>
<polyline points="331.30,311.70 356.80,331.02 382.30,339.30 408.00,361.38" fill="none" stroke="#bcae9e" stroke-width="0.7"/>
<circle cx="331.30" cy="311.70" r="1.2" fill="#bcae9e"/>
<circle cx="356.80" cy="331.02" r="1.2" fill="#bcae9e"/>
<circle cx="382.30" cy="339.30" r="1.2" fill="#bcae9e"/>
<circle cx="408.00" cy="361.38" r="1.2" fill="#bcae9e"/>
<line x1="331.30" y1="310.78" x2="331.30" y2="312.62" stroke="#a48e7c" stroke-width="0.6" stroke-opacity="0.55"/>
<line x1="330.30" y1="310.78" x2="332.30" y2="310.78" stroke="#a48e7c" stroke-width="0.6" stroke-opacity="0.55"/>
<line x1="330.30" y1="312.62" x2="332.30" y2="312.62" stroke="#a48e7c" stroke-width="0.6" stroke-opacity="0.55"/>
<line x1="356.80" y1="311.24" x2="356.80" y2="322.28" stroke="#a48e7c" stroke-width="0.6" stroke-opacity="0.55"/>
<line x1="355.80" y1="311.24" x2="357.80" y2="311.24" stroke="#a48e7c" stroke-width="0.6" stroke-opacity="0.55"/>
<line x1="355.80" y1="322.28" x2="357.80" y2="322.28" stroke="#a48e7c" stroke-width="0.6" stroke-opacity="0.55"/>
<line x1="382.30" y1="326.42" x2="382.30" y2="331.94" stroke="#a48e7c" stroke-width="0.6" stroke-opacity="0.55"/>
<line x1="381.30" y1="326.42" x2="383.30" y2="326.42" stroke="#a48e7c" stroke-width="0.6" stroke-opacity="0.55"/>
<line x1="381.30" y1="331.94" x2="383.30" y2="331.94" stroke="#a48e7c" stroke-width="0.6" stroke-opacity="0.55"/>
<line x1="408.00" y1="346.66" x2="408.00" y2="350.34" stroke="#a48e7c" stroke-width="0.6" stroke-opacity="0.55"/>
<line x1="407.00" y1="346.66" x2="409.00" y2="346.66" stroke="#a48e7c" stroke-width="0.6" stroke-opacity="0.55"/>
<line x1="407.00" y1="350.34" x2="409.00" y2="350.34" stroke="#a48e7c" stroke-width="0.6" stroke-opacity="0.55"/>
<polyline points="331.30,311.70 356.80,316.76 382.30,329.18 408.00,348.50" fill="none" stroke="#a48e7c" stroke-width="0.7"/>
<circle cx="331.30" cy="311.70" r="1.2" fill="#a48e7c"/>
<circle cx="356.80" cy="316.76" r="1.2" fill="#a48e7c"/>
<circle cx="382.30" cy="329.18" r="1.2" fill="#a48e7c"/>
<circle cx="408.00" cy="348.50" r="1.2" fill="#a48e7c"/>
<line x1="331.30" y1="310.78" x2="331.30" y2="312.62" stroke="#8a6a4e" stroke-width="0.6" stroke-opacity="0.55"/>
<line x1="330.30" y1="310.78" x2="332.30" y2="310.78" stroke="#8a6a4e" stroke-width="0.6" stroke-opacity="0.55"/>
<line x1="330.30" y1="312.62" x2="332.30" y2="312.62" stroke="#8a6a4e" stroke-width="0.6" stroke-opacity="0.55"/>
<line x1="356.80" y1="308.94" x2="356.80" y2="323.66" stroke="#8a6a4e" stroke-width="0.6" stroke-opacity="0.55"/>
<line x1="355.80" y1="308.94" x2="357.80" y2="308.94" stroke="#8a6a4e" stroke-width="0.6" stroke-opacity="0.55"/>
<line x1="355.80" y1="323.66" x2="357.80" y2="323.66" stroke="#8a6a4e" stroke-width="0.6" stroke-opacity="0.55"/>
<line x1="382.30" y1="333.78" x2="382.30" y2="341.14" stroke="#8a6a4e" stroke-width="0.6" stroke-opacity="0.55"/>
<line x1="381.30" y1="333.78" x2="383.30" y2="333.78" stroke="#8a6a4e" stroke-width="0.6" stroke-opacity="0.55"/>
<line x1="381.30" y1="341.14" x2="383.30" y2="341.14" stroke="#8a6a4e" stroke-width="0.6" stroke-opacity="0.55"/>
<line x1="408.00" y1="355.86" x2="408.00" y2="361.38" stroke="#8a6a4e" stroke-width="0.6" stroke-opacity="0.55"/>
<line x1="407.00" y1="355.86" x2="409.00" y2="355.86" stroke="#8a6a4e" stroke-width="0.6" stroke-opacity="0.55"/>
<line x1="407.00" y1="361.38" x2="409.00" y2="361.38" stroke="#8a6a4e" stroke-width="0.6" stroke-opacity="0.55"/>
<polyline points="331.30,311.70 356.80,316.30 382.30,337.46 408.00,358.62" fill="none" stroke="#8a6a4e" stroke-width="0.8"/>
<circle cx="331.30" cy="311.70" r="1.2" fill="#8a6a4e"/>
<circle cx="356.80" cy="316.30" r="1.2" fill="#8a6a4e"/>
<circle cx="382.30" cy="337.46" r="1.2" fill="#8a6a4e"/>
<circle cx="408.00" cy="358.62" r="1.2" fill="#8a6a4e"/>
<line x1="331.30" y1="310.78" x2="331.30" y2="312.62" stroke="#6a4a2a" stroke-width="0.6" stroke-opacity="0.55"/>
<line x1="330.30" y1="310.78" x2="332.30" y2="310.78" stroke="#6a4a2a" stroke-width="0.6" stroke-opacity="0.55"/>
<line x1="330.30" y1="312.62" x2="332.30" y2="312.62" stroke="#6a4a2a" stroke-width="0.6" stroke-opacity="0.55"/>
<line x1="356.80" y1="324.58" x2="356.80" y2="330.10" stroke="#6a4a2a" stroke-width="0.6" stroke-opacity="0.55"/>
<line x1="355.80" y1="324.58" x2="357.80" y2="324.58" stroke="#6a4a2a" stroke-width="0.6" stroke-opacity="0.55"/>
<line x1="355.80" y1="330.10" x2="357.80" y2="330.10" stroke="#6a4a2a" stroke-width="0.6" stroke-opacity="0.55"/>
<line x1="382.30" y1="334.70" x2="382.30" y2="338.38" stroke="#6a4a2a" stroke-width="0.6" stroke-opacity="0.55"/>
<line x1="381.30" y1="334.70" x2="383.30" y2="334.70" stroke="#6a4a2a" stroke-width="0.6" stroke-opacity="0.55"/>
<line x1="381.30" y1="338.38" x2="383.30" y2="338.38" stroke="#6a4a2a" stroke-width="0.6" stroke-opacity="0.55"/>
<line x1="408.00" y1="350.34" x2="408.00" y2="354.02" stroke="#6a4a2a" stroke-width="0.6" stroke-opacity="0.55"/>
<line x1="407.00" y1="350.34" x2="409.00" y2="350.34" stroke="#6a4a2a" stroke-width="0.6" stroke-opacity="0.55"/>
<line x1="407.00" y1="354.02" x2="409.00" y2="354.02" stroke="#6a4a2a" stroke-width="0.6" stroke-opacity="0.55"/>
<polyline points="331.30,311.70 356.80,327.34 382.30,336.54 408.00,352.18" fill="none" stroke="#6a4a2a" stroke-width="1.0"/>
<circle cx="331.30" cy="311.70" r="1.2" fill="#6a4a2a"/>
<circle cx="356.80" cy="327.34" r="1.2" fill="#6a4a2a"/>
<circle cx="382.30" cy="336.54" r="1.2" fill="#6a4a2a"/>
<circle cx="408.00" cy="352.18" r="1.2" fill="#6a4a2a"/>
<line x1="356.80" y1="366.90" x2="356.80" y2="370.58" stroke="#45301c" stroke-width="0.6" stroke-opacity="0.55"/>
<line x1="355.80" y1="366.90" x2="357.80" y2="366.90" stroke="#45301c" stroke-width="0.6" stroke-opacity="0.55"/>
<line x1="355.80" y1="370.58" x2="357.80" y2="370.58" stroke="#45301c" stroke-width="0.6" stroke-opacity="0.55"/>
<line x1="382.30" y1="392.20" x2="382.30" y2="393.67" stroke="#45301c" stroke-width="0.6" stroke-opacity="0.55"/>
<line x1="381.30" y1="392.20" x2="383.30" y2="392.20" stroke="#45301c" stroke-width="0.6" stroke-opacity="0.55"/>
<line x1="381.30" y1="393.67" x2="383.30" y2="393.67" stroke="#45301c" stroke-width="0.6" stroke-opacity="0.55"/>
<line x1="408.00" y1="398.09" x2="408.00" y2="399.01" stroke="#45301c" stroke-width="0.6" stroke-opacity="0.55"/>
<line x1="407.00" y1="398.09" x2="409.00" y2="398.09" stroke="#45301c" stroke-width="0.6" stroke-opacity="0.55"/>
<line x1="407.00" y1="399.01" x2="409.00" y2="399.01" stroke="#45301c" stroke-width="0.6" stroke-opacity="0.55"/>
<polyline points="331.30,311.70 356.80,368.74 382.30,392.94 408.00,398.55" fill="none" stroke="#45301c" stroke-width="1.05"/>
<circle cx="331.30" cy="311.70" r="1.2" fill="#45301c"/>
<circle cx="356.80" cy="368.74" r="1.2" fill="#45301c"/>
<circle cx="382.30" cy="392.94" r="1.2" fill="#45301c"/>
<circle cx="408.00" cy="398.55" r="1.2" fill="#45301c"/>
<text transform="translate(410.80,401.40)" font-size="9.2" fill="#333" text-anchor="start" font-weight="normal" stroke="#333" stroke-width="0.22">Par</text>
<text transform="translate(438.50,306.90)" font-size="9.0" fill="#333" text-anchor="start" font-weight="normal" stroke="#333" stroke-width="0.22">Strain</text>
<text transform="translate(492.40,301.30)" font-size="9.6" fill="#333" text-anchor="middle" font-weight="normal" stroke="#333" stroke-width="0.22">IC50</text>
<text transform="translate(492.40,312.40)" font-size="9.6" fill="#333" text-anchor="middle" font-weight="normal" stroke="#333" stroke-width="0.22">(nM)</text>
<line x1="435.00" y1="315.90" x2="510.00" y2="315.90" stroke="#333" stroke-width="1.2"/>
<line x1="435.50" y1="328.60" x2="446.00" y2="328.60" stroke="#45301c" stroke-width="0.9"/>
<circle cx="440.80" cy="328.60" r="1.25" fill="#45301c"/>
<text transform="translate(451.50,330.80)" font-size="9.2" fill="#333" text-anchor="start" font-weight="normal" stroke="#333" stroke-width="0.22">Par</text>
<text transform="translate(505.40,330.80)" font-size="9.2" fill="#333" text-anchor="end" font-weight="normal" stroke="#333" stroke-width="0.22">37.04</text>
<line x1="435.50" y1="343.35" x2="446.00" y2="343.35" stroke="#6a4a2a" stroke-width="0.9"/>
<circle cx="440.80" cy="343.35" r="1.25" fill="#6a4a2a"/>
<text transform="translate(451.50,345.55)" font-size="9.2" fill="#333" text-anchor="start" font-weight="normal" stroke="#333" stroke-width="0.22">27A</text>
<text transform="translate(505.40,345.55)" font-size="9.2" fill="#333" text-anchor="end" font-weight="normal" stroke="#333" stroke-width="0.22">336.6</text>
<line x1="435.50" y1="358.10" x2="446.00" y2="358.10" stroke="#8a6a4e" stroke-width="0.9"/>
<circle cx="440.80" cy="358.10" r="1.25" fill="#8a6a4e"/>
<text transform="translate(451.50,360.30)" font-size="9.2" fill="#333" text-anchor="start" font-weight="normal" stroke="#333" stroke-width="0.22">27B</text>
<text transform="translate(505.40,360.30)" font-size="9.2" fill="#333" text-anchor="end" font-weight="normal" stroke="#333" stroke-width="0.22">220.1</text>
<line x1="435.50" y1="372.85" x2="446.00" y2="372.85" stroke="#a48e7c" stroke-width="0.9"/>
<circle cx="440.80" cy="372.85" r="1.25" fill="#a48e7c"/>
<text transform="translate(451.50,375.05)" font-size="9.2" fill="#333" text-anchor="start" font-weight="normal" stroke="#333" stroke-width="0.22">27C</text>
<text transform="translate(505.40,375.05)" font-size="9.2" fill="#333" text-anchor="end" font-weight="normal" stroke="#333" stroke-width="0.22">333.0</text>
<line x1="435.50" y1="387.60" x2="446.00" y2="387.60" stroke="#bcae9e" stroke-width="0.9"/>
<circle cx="440.80" cy="387.60" r="1.25" fill="#bcae9e"/>
<text transform="translate(451.50,389.80)" font-size="9.2" fill="#333" text-anchor="start" font-weight="normal" stroke="#333" stroke-width="0.22">27D</text>
<text transform="translate(505.40,389.80)" font-size="9.2" fill="#333" text-anchor="end" font-weight="normal" stroke="#333" stroke-width="0.22">172.7</text>
<line x1="435.50" y1="402.35" x2="446.00" y2="402.35" stroke="#d4cabe" stroke-width="0.9"/>
<circle cx="440.80" cy="402.35" r="1.25" fill="#d4cabe"/>
<text transform="translate(451.50,404.55)" font-size="9.2" fill="#333" text-anchor="start" font-weight="normal" stroke="#333" stroke-width="0.22">27E</text>
<text transform="translate(505.40,404.55)" font-size="9.2" fill="#333" text-anchor="end" font-weight="normal" stroke="#333" stroke-width="0.22">260.6</text>
</svg>
</body></html>
